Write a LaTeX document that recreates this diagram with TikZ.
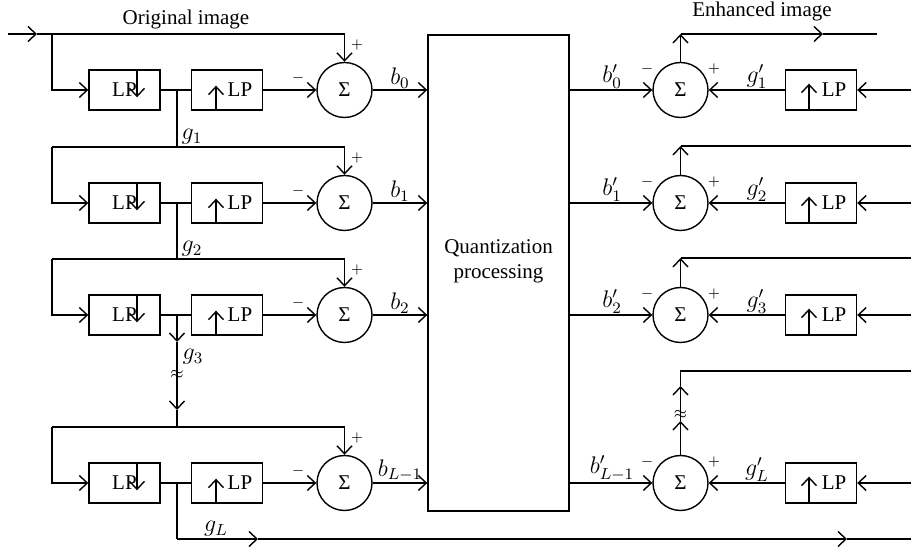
\documentclass[tikz,border=0pt]{standalone}
\usepackage{fontspec}
\setmainfont{Liberation Serif}
\usetikzlibrary{arrows.meta}
\begin{document}
\begin{tikzpicture}[x=0.5pt,y=-0.5pt, line width=0.7pt,
  >={Straight Barb[length=4pt,width=7.5pt]},
  every node/.style={font=\fontsize{10.5}{12.5}\selectfont},
  lpbox/.style={draw, minimum width=35.5pt, minimum height=20pt, inner sep=0pt},
  sumnode/.style={draw, circle, minimum size=27.5pt, inner sep=0pt},
  sgn/.style={inner sep=0pt, font=\fontsize{7.5}{8}\selectfont},
  lbl/.style={inner sep=1pt, anchor=south, font=\fontsize{12}{14}\selectfont},
  brk/.style={inner sep=0pt, font=\fontsize{8.5}{9}\selectfont}
]
\useasboundingbox (0,0) rectangle (911,550);

% central block
\node[draw, minimum width=70.5pt, minimum height=238pt] (Q) at (498.5,273) {};
\node[align=center] (Qt) at (498.5,261) {Quantization\\processing};

\node (orig) at (186,19) {Original image};
\node (enh) at (762,11) {Enhanced image};

\foreach \r/\yc/\bl/\bp/\gp in {0/90/b_0/b'_0/g'_1, 1/203/b_1/b'_1/g'_2, 2/315/b_2/b'_2/g'_3, 3/483/b_{L-1}/b'_{L-1}/g'_L}{
  % left analysis row
  \node[lpbox] (dn\r) at (124.5,\yc) {LP\hspace{8pt}};
  \draw[->] ([xshift=6.25pt]dn\r.north) -- ++(0,28);
  \node[lpbox] (up\r) at (227,\yc) {\hspace{13pt}LP};
  \draw[->] ([xshift=-5.5pt]up\r.south) -- ++(0,-25);
  \node[sumnode] (s\r) at (344.5,\yc) {Σ};
  \coordinate (j\r) at (177,\yc);
  \coordinate (t\r) at (344.5,\yc-56);
  \coordinate (l\r) at (52,\yc-56);
  \coordinate (lc\r) at (52,\yc);
  \draw (dn\r) -- (up\r);
  \draw[->] (up\r) -- (s\r);
  \draw[->] (l\r) -- (lc\r) -- (dn\r);
  \draw (l\r) -- (t\r);
  \draw[->] (t\r) -- (s\r);
  \node[sgn] (mi\r) at (298,\yc-12) {$-$};
  \node[sgn] (pl\r) at (357,\yc-45) {$+$};
  \draw[->] (s\r.east) -- (s\r.east -| Q.west);
  \node[lbl] (bl\r) at (400,\yc+1) {$\bl$};
  % right synthesis row
  \node[sumnode] (rs\r) at (680.5,\yc) {Σ};
  \node[lpbox] (ru\r) at (821,\yc) {\hspace{13pt}LP};
  \draw[->] ([xshift=-6pt]ru\r.south) -- ++(0,-27);
  \coordinate (re\r) at (911,\yc);
  \draw[->] (rs\r.west -| Q.east) -- (rs\r);
  \draw[->] (ru\r) -- (rs\r);
  \draw[->] (re\r) -- (ru\r);
  \node[lbl] (bp\r) at (612,\yc+1) {$\bp$};
  \node[lbl] (gp\r) at (757,\yc+1) {$\gp$};
  \node[sgn] (rmi\r) at (647,\yc-21) {$-$};
  \node[sgn] (rpl\r) at (714,\yc-21) {$+$};
}

% input line
\coordinate (in) at (8,34);
\coordinate (ina) at (37,34);
\draw[->] (in) -- (ina);
\draw (ina) -- (l0);

% left vertical links
\coordinate (m1) at (177,147);
\coordinate (m2) at (177,259);
\coordinate (m3) at (177,427);
\draw (j0) -- (m1);
\draw (j1) -- (m2);
\node[anchor=south west, inner sep=1pt, font=\fontsize{12}{14}\selectfont] (g1) at (179,147) {$g_1$};
\node[anchor=south west, inner sep=1pt, font=\fontsize{12}{14}\selectfont] (g2) at (179,259) {$g_2$};
\coordinate (a1) at (177,342);
\coordinate (a2) at (177,410);
\draw[->] (j2) -- (a1);
\draw[->] (a1) -- (a2);
\draw (a2) -- (m3);
\node[brk] (bk1) at (177,375) {$\approx$};
\node[anchor=west, inner sep=1pt, font=\fontsize{12}{14}\selectfont] (g3) at (180,357) {$g_3$};

% bottom g_L line
\coordinate (gb) at (177,539);
\coordinate (ga1) at (258,539);
\coordinate (ga2) at (847,539);
\coordinate (ge) at (911,539);
\draw (j3) -- (gb);
\draw[->] (gb) -- (ga1);
\draw[->] (ga1) -- (ga2);
\draw (ga2) -- (ge);
\node[anchor=south, inner sep=1pt, font=\fontsize{12}{14}\selectfont] (gL) at (216,539) {$g_L$};

% right outputs
\coordinate (rt0) at (680.5,34);
\coordinate (ra0) at (823,34);
\coordinate (rz0) at (877,34);
\draw[->] (rs0) -- (rt0);
\draw[->] (rt0) -- (ra0);
\draw (ra0) -- (rz0);

\coordinate (rt1) at (680.5,146);
\coordinate (rz1) at (911,146);
\draw[->] (rs1) -- (rt1);
\draw (rt1) -- (rz1);

\coordinate (rt2) at (680.5,258);
\coordinate (rz2) at (911,258);
\draw[->] (rs2) -- (rt2);
\draw (rt2) -- (rz2);

\coordinate (ra3) at (680.5,421);
\coordinate (rc3) at (680.5,386);
\coordinate (rt3) at (680.5,371);
\coordinate (rz3) at (911,371);
\draw[->] (rs3) -- (ra3);
\draw[->] (ra3) -- (rc3);
\draw (rc3) -- (rt3) -- (rz3);
\node[brk] (bk2) at (680.5,415) {$\approx$};
\end{tikzpicture}
\end{document}
